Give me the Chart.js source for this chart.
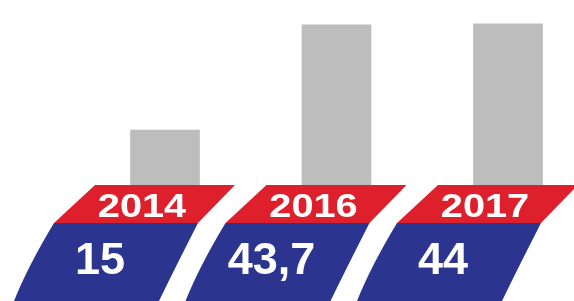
<!DOCTYPE html>
<html>
<head>
<meta charset="utf-8">
<script src="https://cdn.jsdelivr.net/npm/chart.js@4"></script>
<style>
  html, body { margin: 0; padding: 0; background: #ffffff; }
  #wrap { width: 574px; height: 301px; }
</style>
</head>
<body>
<div id="wrap"><canvas id="c" width="574" height="301"></canvas></div>
<script>
// ---- data ----
const years = ['2014', '2016', '2017'];
const values = [15, 43.7, 44];
const valueLabels = values.map(v => String(v).replace('.', ','));

// ---- style ----
const BAR_COLOR = '#bdbdbd';
const RED = '#de1f2c';
const BLUE = '#2b3590';

const bandPlugin = {
  id: 'bands',
  afterDatasetsDraw(chart) {
    const ctx = chart.ctx;
    const xs = chart.scales.x;
    const top = chart.chartArea.bottom;   // red band starts at bar base
    const mid = top + 38;                 // red / blue boundary
    const bot = chart.height;             // bottom of canvas
    // edge offsets relative to category centre
    const L = [-70, -111, -151];
    const R = [70, 33, -6];
    years.forEach((yr, i) => {
      const c = xs.getPixelForValue(i);
      // red parallelogram
      ctx.save();
      ctx.fillStyle = RED;
      ctx.beginPath();
      ctx.moveTo(c + L[0], top);
      ctx.lineTo(c + R[0], top);
      ctx.lineTo(c + R[1], mid);
      ctx.lineTo(c + L[1], mid);
      ctx.closePath();
      ctx.fill();
      // blue parallelogram (slightly curved edges)
      ctx.fillStyle = BLUE;
      ctx.beginPath();
      ctx.moveTo(c + L[1], mid);
      ctx.lineTo(c + R[1], mid);
      ctx.quadraticCurveTo(c + R[1] - 22, (mid + bot) / 2 + 4, c + R[2], bot);
      ctx.lineTo(c + L[2], bot);
      ctx.quadraticCurveTo(c + L[1] - 26, (mid + bot) / 2 + 4, c + L[1], mid);
      ctx.closePath();
      ctx.fill();

      // year text
      ctx.fillStyle = '#ffffff';
      ctx.textAlign = 'center';
      ctx.textBaseline = 'middle';
      ctx.font = 'bold 34px "Liberation Sans", Arial, sans-serif';
      ctx.save();
      ctx.translate(c - 23, (top + mid) / 2 + 4);
      ctx.scale(1.17, 1);
      ctx.fillText(yr, 0, 0);
      ctx.restore();

      // value text
      ctx.font = 'bold 45px "Liberation Sans", Arial, sans-serif';
      ctx.fillText(valueLabels[i], c - 65, (mid + bot) / 2 + 0);
      ctx.restore();
    });
  }
};

new Chart(document.getElementById('c'), {
  type: 'bar',
  data: {
    labels: years,
    datasets: [{
      data: values,
      backgroundColor: BAR_COLOR,
      borderWidth: 0,
      barThickness: 69,
      clip: false
    }]
  },
  options: {
    responsive: false,
    animation: false,
    devicePixelRatio: 1,
    layout: { padding: { left: 165, right: 66, top: 0, bottom: 116 } },
    plugins: { legend: { display: false }, tooltip: { enabled: false } },
    scales: {
      x: { display: false, offset: false, grid: { display: false } },
      y: { display: false, min: 0, max: 50.5, grid: { display: false } }
    }
  },
  plugins: [bandPlugin]
});
</script>
</body>
</html>
